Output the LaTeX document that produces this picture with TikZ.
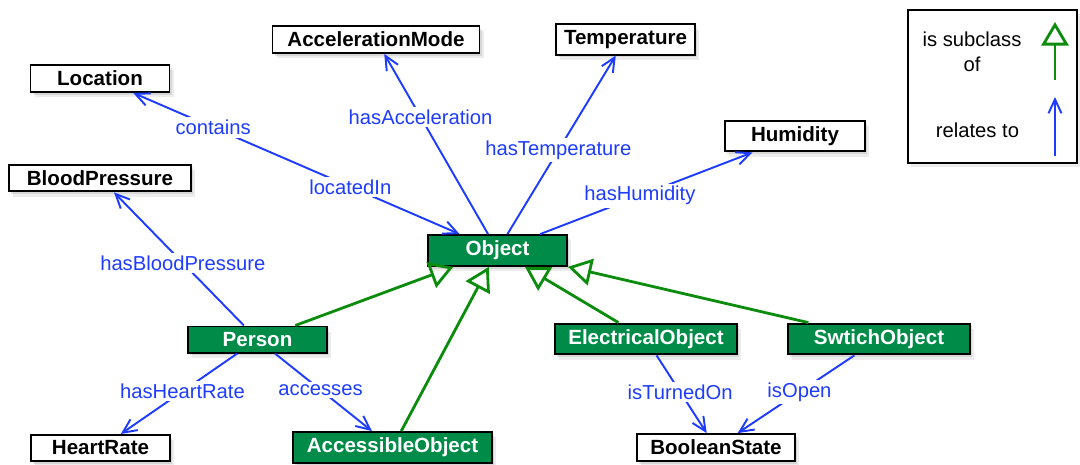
\documentclass[tikz,border=0pt]{standalone}
\usepackage{fontspec}
\setmainfont{Liberation Sans}
\usetikzlibrary{arrows.meta,shadows}
\definecolor{klassgreen}{RGB}{0,140,72}
\definecolor{subgreen}{RGB}{12,140,12}
\definecolor{relblue}{RGB}{30,60,255}
\begin{document}
\begin{tikzpicture}[x=0.02cm,y=-0.02cm,
  >={Straight Barb[length=2.8mm,width=2.6mm]},
  term/.style={draw=black,line width=1.1pt,fill=white,minimum height=0.5cm,inner xsep=0pt,
    font=\fontsize{11.7}{13}\selectfont\bfseries,
    drop shadow={opacity=0.15,shadow xshift=2.5pt,shadow yshift=-3pt},
    drop shadow={opacity=0.2,shadow xshift=1.2pt,shadow yshift=-1.5pt}},
  klass/.style={term,fill=klassgreen,text=white},
  rel/.style={draw=relblue,line width=1.1pt,->},
  sub/.style={draw=subgreen,line width=1.6pt,-{Triangle[open,length=4.7mm,width=5.4mm]}},
  lbl/.style={fill=white,text=relblue,inner sep=1.5pt,font=\fontsize{11.5}{13}\selectfont}]
\useasboundingbox (0,0) rectangle (1080,464);
% クラス
\node[term,minimum width=2.78cm] (loc) at (100,78.5) {Location};
\node[term,minimum width=4.14cm] (accel) at (376,39.5) {AccelerationMode};
\node[term,minimum width=2.78cm] (temp) at (625.5,39.5) {Temperature};
\node[term,minimum width=2.8cm] (hum) at (795,136) {Humidity};
\node[term,minimum width=3.64cm] (bp) at (100,178) {BloodPressure};
\node[klass,minimum width=2.78cm] (obj) at (497.5,250.5) {Object};
\node[klass,minimum width=2.78cm] (person) at (257.5,339.5) {Person};
\node[klass,minimum width=3.64cm] (elec) at (646,339) {ElectricalObject};
\node[klass,minimum width=3.64cm] (swt) at (879,339) {SwtichObject};
\node[term,minimum width=2.78cm] (hr) at (100.5,448) {HeartRate};
\node[klass,minimum width=3.98cm] (acc) at (392.5,447.5) {AccessibleObject};
\node[term,minimum width=3.16cm] (bool) at (716,447.5) {BooleanState};
% 関係
\draw[rel,<->] (loc) -- node[lbl,pos=0.245]{contains} node[lbl,pos=0.665]{locatedIn} (obj);
\draw[rel] (obj) -- node[lbl,pos=0.65]{hasAcceleration} (accel);
\draw[rel] (obj) -- node[lbl,pos=0.47]{hasTemperature} (temp);
\draw[rel] (obj) -- node[lbl,pos=0.47]{hasHumidity} (hum);
\draw[rel] (person) -- node[lbl,pos=0.47]{hasBloodPressure} (bp);
\draw[rel] (person) -- node[lbl,pos=0.47]{hasHeartRate} (hr);
\draw[rel] (person) -- node[lbl,pos=0.47]{accesses} (acc);
\draw[rel] (elec) -- node[lbl,pos=0.47]{isTurnedOn} (bool);
\draw[rel] (swt) -- node[lbl,pos=0.47]{isOpen} (bool);
% サブクラス
\draw[sub] (person) -- (obj);
\draw[sub] (acc) -- (obj);
\draw[sub] (elec) -- (obj);
\draw[sub] (swt) -- (obj);
% 凡例
\node[draw,line width=0.8pt,fill=white,minimum width=3.38cm,minimum height=3.06cm,
  drop shadow={opacity=0.15,shadow xshift=1.5pt,shadow yshift=-2pt}] (key) at (992.5,86.5) {};
\node[align=center,font=\fontsize{11.5}{14}\selectfont] (keysub) at (972,52) {is subclass\\of};
\node[font=\fontsize{11.5}{14}\selectfont] (keyrel) at (977.5,130) {relates to};
\coordinate (subA) at (1055,80);
\coordinate (subB) at (1055,22);
\draw[sub] (subA) -- (subB);
\coordinate (relA) at (1055,156);
\coordinate (relB) at (1055,97);
\draw[rel] (relA) -- (relB);
\end{tikzpicture}
\end{document}
